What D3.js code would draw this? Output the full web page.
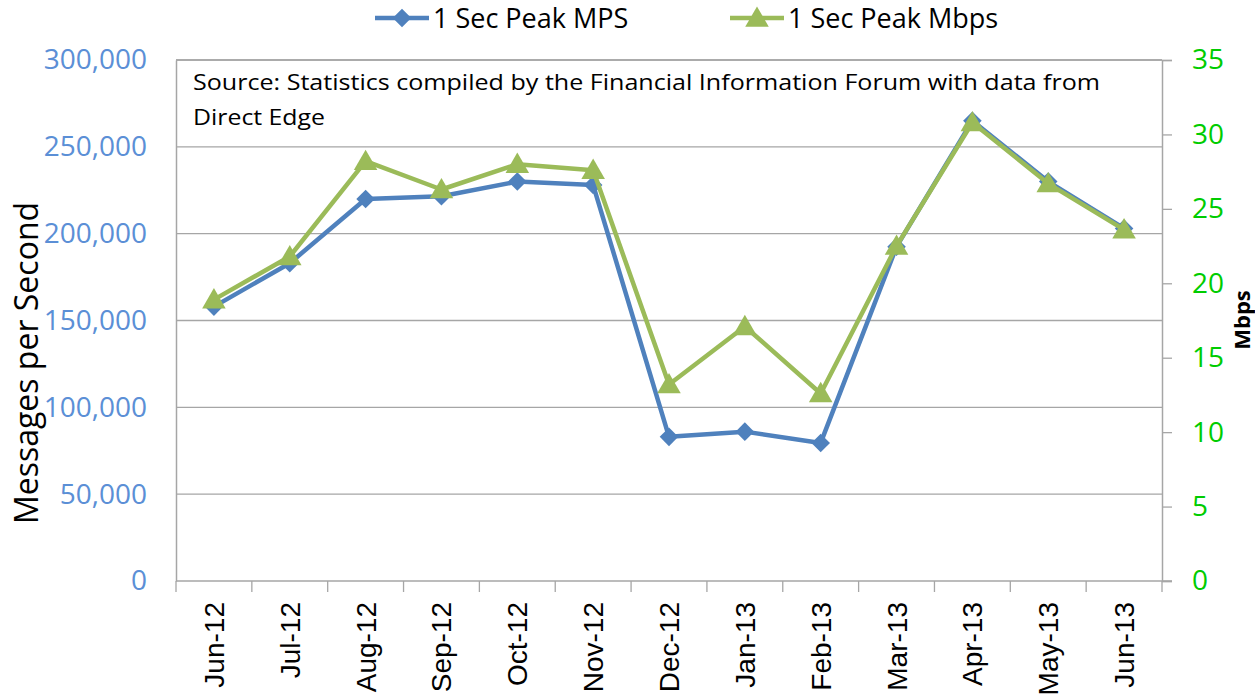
<!DOCTYPE html>
<html><head><meta charset="utf-8">
<script src="https://cdn.jsdelivr.net/npm/d3@7"></script>
<style>body{margin:0;background:#fff}svg{display:block}</style>
</head><body>
<svg id="c" width="1255" height="700"></svg>
<script>
const categories = ["Jun-12","Jul-12","Aug-12","Sep-12","Oct-12","Nov-12","Dec-12","Jan-13","Feb-13","Mar-13","Apr-13","May-13","Jun-13"];
const mpsValues = [158000,183000,220000,221500,230000,228000,83000,86000,79500,192500,265000,230000,203000];
const mbpsValues = [18.9,21.8,28.2,26.3,28.0,27.6,13.2,17.1,12.6,22.5,30.8,26.7,23.6];
const leftTicks = [0,50000,100000,150000,200000,250000,300000];
const rightTicks = [0,5,10,15,20,25,30,35];
const seriesNames = ["1 Sec Peak MPS","1 Sec Peak Mbps"];

const svg = d3.select("#c");
const L = 176, R = 1162, T = 60, B = 581;
const blue = "#4F81BD", green = "#9BBB59";
const font = "'Open Sans', 'Liberation Sans', sans-serif";

const x = d3.scaleBand().domain(categories).range([L, R]);
const yL = d3.scaleLinear().domain([0, 300000]).range([B, T]);
const yR = d3.scaleLinear().domain([0, 35]).range([B, T]);

// gridlines
svg.append("g").selectAll("line").data(leftTicks.slice(1)).join("line")
  .attr("x1", L).attr("x2", R).attr("y1", d => yL(d)).attr("y2", d => yL(d))
  .attr("stroke", "#A6A6A6").attr("stroke-width", 1.3);

// left axis
const gl = svg.append("g").attr("transform", `translate(${L},0)`)
  .call(d3.axisLeft(yL).tickValues(leftTicks).tickFormat(d3.format(",")).tickSize(0).tickPadding(29));
gl.select(".domain").attr("stroke", "#A6A6A6").attr("stroke-width", 1.5);
gl.selectAll("text").attr("fill", "#5B8FD6").attr("font-size", 28).attr("font-family", font);

// right axis
const gr = svg.append("g").attr("transform", `translate(${R},0)`)
  .call(d3.axisRight(yR).tickValues(rightTicks).tickSize(10).tickPadding(20));
gr.select(".domain").attr("stroke", "#A6A6A6").attr("stroke-width", 1.5);
gr.selectAll("line").attr("stroke", "#A6A6A6").attr("stroke-width", 1.3);
gr.selectAll("text").attr("fill", "#00CC00").attr("font-size", 28).attr("font-family", font);

// bottom axis
svg.append("line").attr("x1", L).attr("x2", R + 10).attr("y1", B).attr("y2", B)
  .attr("stroke", "#A6A6A6").attr("stroke-width", 1.5);
const bounds = categories.map(c => x(c)).concat([R]);
svg.append("g").selectAll("line").data(bounds).join("line")
  .attr("x1", d => d).attr("x2", d => d).attr("y1", B).attr("y2", B + 11)
  .attr("stroke", "#A6A6A6").attr("stroke-width", 1.3);
svg.append("g").selectAll("text").data(categories).join("text")
  .attr("transform", d => `translate(${x(d) + x.bandwidth()/2 + 10},${B + 21}) rotate(-90)`)
  .attr("text-anchor", "end").attr("font-size", 28).attr("font-family", "'Liberation Sans', Arial, sans-serif")
  .attr("fill", "#000").text(d => d);

// top border
svg.append("line").attr("x1", L).attr("x2", R).attr("y1", T).attr("y2", T)
  .attr("stroke", "#A6A6A6").attr("stroke-width", 1.3);

// axis titles
svg.append("text").attr("transform", "translate(38,363) rotate(-90)")
  .attr("text-anchor", "middle").attr("font-size", 32).attr("font-family", font)
  .text("Messages per Second");
svg.append("text").attr("transform", "translate(1250,320) rotate(-90)")
  .attr("text-anchor", "middle").attr("font-size", 22).attr("font-weight", "bold")
  .attr("font-family", font).text("Mbps");

// source annotation
svg.append("text").attr("x", 193).attr("y", 90).attr("font-size", 22).attr("font-family", font)
  .attr("textLength", 907).attr("lengthAdjust", "spacingAndGlyphs")
  .text("Source: Statistics compiled by the Financial Information Forum with data from");
svg.append("text").attr("x", 193).attr("y", 125).attr("font-size", 22).attr("font-family", font)
  .attr("textLength", 132).attr("lengthAdjust", "spacingAndGlyphs")
  .text("Direct Edge");

const cx = d => x(d) + x.bandwidth()/2;
const diamond = d3.symbol().type(d3.symbolDiamond2).size(220);
const tri = d3.symbol().type(d3.symbolTriangle).size(240);

// MPS series
svg.append("path").datum(mpsValues)
  .attr("d", d3.line().x((d,i) => cx(categories[i])).y(d => yL(d)))
  .attr("fill", "none").attr("stroke", blue).attr("stroke-width", 4.5).attr("stroke-linejoin", "round");
svg.append("g").selectAll("path").data(mpsValues).join("path")
  .attr("transform", (d,i) => `translate(${cx(categories[i])},${yL(d)})`)
  .attr("d", diamond).attr("fill", blue);

// Mbps series
svg.append("path").datum(mbpsValues)
  .attr("d", d3.line().x((d,i) => cx(categories[i])).y(d => yR(d)))
  .attr("fill", "none").attr("stroke", green).attr("stroke-width", 4.5).attr("stroke-linejoin", "round");
svg.append("g").selectAll("path").data(mbpsValues).join("path")
  .attr("transform", (d,i) => `translate(${cx(categories[i])},${yR(d) + 2})`)
  .attr("d", tri).attr("fill", green);

// legend
const leg = [{name: seriesNames[0], color: blue, sym: diamond, x0: 375},
             {name: seriesNames[1], color: green, sym: tri, x0: 730}];
const lg = svg.append("g");
leg.forEach(l => {
  lg.append("line").attr("x1", l.x0).attr("x2", l.x0 + 54).attr("y1", 18).attr("y2", 18)
    .attr("stroke", l.color).attr("stroke-width", 4.5);
  lg.append("path").attr("transform", `translate(${l.x0 + 27},${l.sym === tri ? 20 : 18})`)
    .attr("d", l.sym).attr("fill", l.color);
  lg.append("text").attr("x", l.x0 + 58).attr("y", 28).attr("font-size", 27)
    .attr("font-family", font).text(l.name);
});
</script>
</body></html>
